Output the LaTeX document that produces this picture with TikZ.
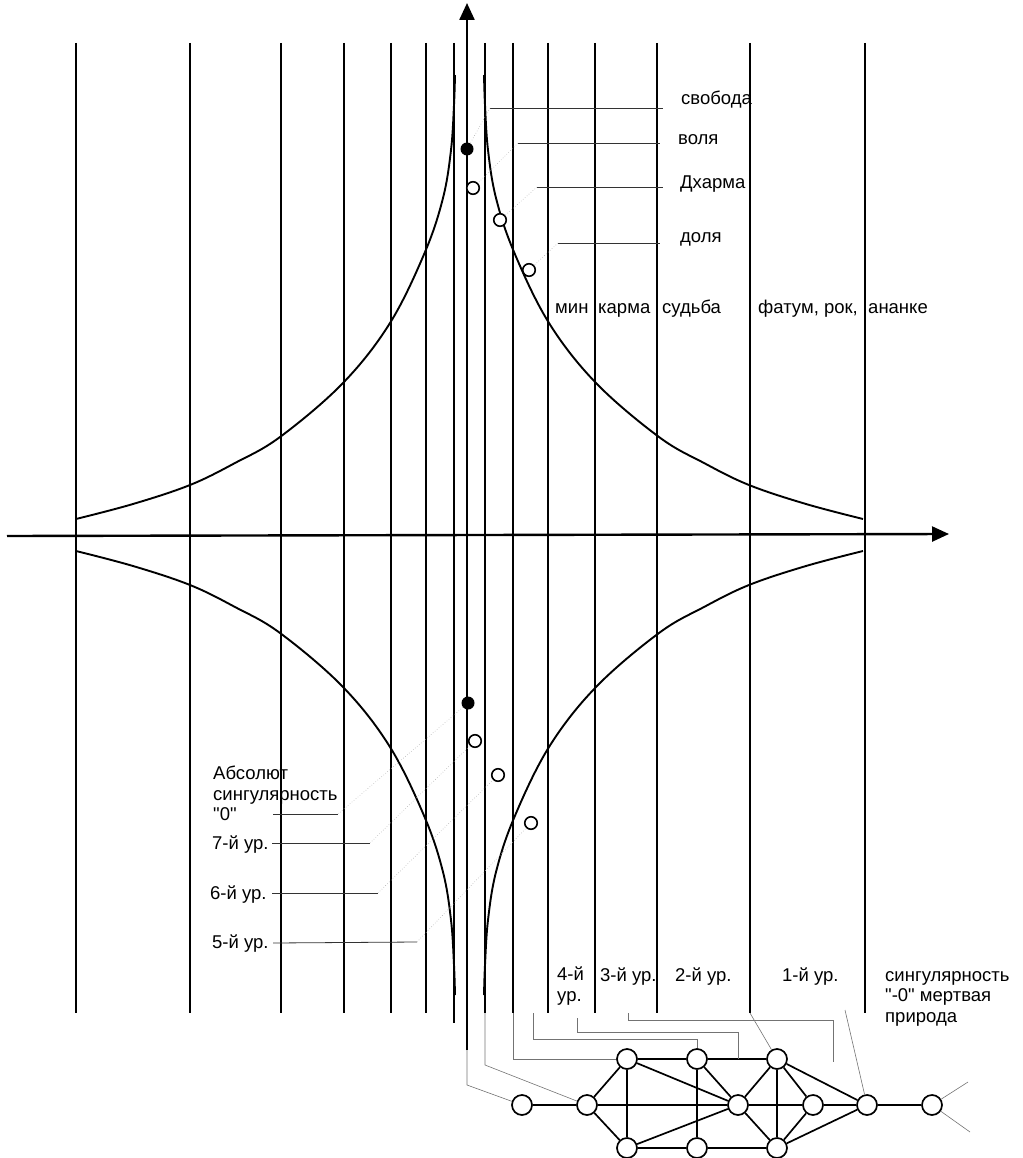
\documentclass[tikz,border=0pt]{standalone}
\usepackage{fontspec}
\setmainfont{Liberation Sans}[Ligatures=TeXOff]
\usetikzlibrary{arrows.meta}
\newcommand\branchpath{%
  \draw[hypcurve] plot[smooth, tension=0.6] coordinates {(76,519) (133,504) (190,485) (235,463) (280,437) (343,383) (390,323) (425,252) (443,198) (451,150) (454,105) (455,75)};}
\begin{document}
\begin{tikzpicture}[x=1pt,y=-1pt,
  vline/.style={line width=1.6pt},
  hypcurve/.style={line width=1.9pt, line join=round},
  axisline/.style={line width=2.4pt,-{Triangle[length=17pt,width=15pt]}},
  lbl/.style={anchor=base west, inner sep=0pt, font=\fontsize{18.5}{21}\selectfont, align=left},
  mlbl/.style={anchor=north west, inner sep=0pt, font=\fontsize{18.5}{20.5}\selectfont, align=left},
  lead/.style={line width=0.8pt, black!80},
  faint/.style={line width=0.6pt, gray!60, dotted},
  gnode/.style={circle, draw, line width=1.7pt, minimum size=20pt, inner sep=0pt, fill=white},
  gedge/.style={line width=1.7pt},
  tedge/.style={line width=2.7pt},
  conn/.style={line width=0.6pt, black!55},
  odot/.style={circle, draw, line width=1.6pt, minimum size=12.5pt, inner sep=0pt, fill=white},
  fdot/.style={circle, fill, minimum size=13pt, inner sep=0pt}]
\useasboundingbox (0,0) rectangle (1022,1158);
% vertical lines
\foreach \x in {76,190,281,344,391,426,485,513,548,595,657,750,865}
  \draw[vline] (\x,43) -- (\x,1013);
\draw[vline] (454,43) -- (454,1023);
% axes
\coordinate (xs) at (7,536);
\coordinate (xe) at (949,534);
\draw[axisline] (xs) -- (xe);
\coordinate (ys) at (467,1050);
\coordinate (ye) at (467,3);
\draw[axisline] (ys) -- (ye);
% curves
\branchpath
\begin{scope}[shift={(939,0)},xscale=-1]\branchpath\end{scope}
\begin{scope}[shift={(0,1070)},yscale=-1]\branchpath\end{scope}
\begin{scope}[shift={(939,1070)},xscale=-1,yscale=-1]\branchpath\end{scope}
% dots
\node[fdot] (u0) at (467,149) {};
\node[odot] (u1) at (473,188) {};
\node[odot] (u2) at (500,220) {};
\node[odot] (u3) at (529,270) {};
\node[fdot] (l0) at (468,703) {};
\node[odot] (l1) at (475,741) {};
\node[odot] (l2) at (498,775) {};
\node[odot] (l3) at (531,823) {};
% upper labels
\node[lbl] (t1) at (681,105) {свобода};
\node[lbl] (t2) at (678,145) {воля};
\node[lbl] (t3) at (680,189) {Дхарма};
\node[lbl] (t4) at (680,243) {доля};
\coordinate (a1) at (490,108); \coordinate (b1) at (663,108);
\coordinate (a2) at (518,143); \coordinate (b2) at (660,143);
\coordinate (a3) at (537,187); \coordinate (b3) at (663,187);
\coordinate (a4) at (558,243); \coordinate (b4) at (660,243);
\draw[lead] (a1) -- (b1); \draw[faint] (a1) -- (u0);
\draw[lead] (a2) -- (b2); \draw[faint] (a2) -- (u1);
\draw[lead] (a3) -- (b3); \draw[faint] (a3) -- (u2);
\draw[lead] (a4) -- (b4); \draw[faint] (a4) -- (u3);
% row labels
\node[lbl] (r1) at (555,313) {мин};
\node[lbl] (r2) at (598,313) {карма};
\node[lbl] (r3) at (662,313) {судьба};
\node[lbl] (r4) at (758,313) {фатум, рок,};
\node[lbl] (r5) at (868,313) {ананке};
% left labels
\node[mlbl] (s0) at (213,766) {Абсолют\\сингулярность\\"0"};
\node[lbl] (s7) at (212,849) {7-й ур.};
\node[lbl] (s6) at (210,899) {6-й ур.};
\node[lbl] (s5) at (212,948) {5-й ур.};
\coordinate (c0) at (273,814); \coordinate (d0) at (338,814);
\coordinate (c7) at (272,843); \coordinate (d7) at (370,843);
\coordinate (c6) at (272,893); \coordinate (d6) at (378,893);
\coordinate (c5) at (273,943); \coordinate (d5) at (417,942);
\draw[lead] (c0) -- (d0); \draw[faint] (d0) -- (l0);
\draw[lead] (c7) -- (d7); \draw[faint] (d7) -- (l1);
\draw[lead] (c6) -- (d6); \draw[faint] (d6) -- (l2);
\draw[lead] (c5) -- (d5); \draw[faint] (d5) -- (l3);
% bottom labels
\node[mlbl] (w4) at (557,967) {4-й\\ур.};
\node[lbl] (w3) at (600,981) {3-й ур.};
\node[lbl] (w2) at (675,981) {2-й ур.};
\node[lbl] (w1) at (782,981) {1-й ур.};
\node[mlbl] (w0) at (885,971) {сингулярность\\"-0" мертвая\\природа};
% graph
\node[gnode] (A) at (522,1105) {};
\node[gnode] (B) at (587,1105) {};
\node[gnode] (C) at (627,1059) {};
\node[gnode] (Cb) at (627,1148) {};
\node[gnode] (D) at (697,1059) {};
\node[gnode] (Db) at (697,1148) {};
\node[gnode] (E) at (738,1105) {};
\node[gnode] (F) at (777,1059) {};
\node[gnode] (Fb) at (777,1148) {};
\node[gnode] (G) at (813,1105) {};
\node[gnode] (H) at (867,1105) {};
\node[gnode] (I) at (932,1105) {};
\draw[tedge] (A) -- (B);
\draw[gedge] (B) -- (C); \draw[gedge] (B) -- (Cb); \draw[gedge] (B) -- (E);
\draw[gedge] (C) -- (D); \draw[gedge] (C) -- (Cb); \draw[gedge] (C) -- (E);
\draw[gedge] (Cb) -- (E); \draw[tedge] (Cb) -- (Db);
\draw[gedge] (D) -- (Db); \draw[gedge] (D) -- (E); \draw[tedge] (D) -- (F);
\draw[gedge] (Db) -- (Fb);
\draw[gedge] (E) -- (F); \draw[gedge] (E) -- (Fb); \draw[gedge] (E) -- (G);
\draw[gedge] (F) -- (Fb); \draw[gedge] (F) -- (G); \draw[gedge] (F) -- (H);
\draw[gedge] (Fb) -- (G); \draw[gedge] (Fb) -- (H);
\draw[gedge] (G) -- (H);
\draw[tedge] (H) -- (I);
% connectors from levels to graph
\coordinate (k1) at (467,1085);
\draw[conn] (ys) -- (k1) -- (A);
\coordinate (k2a) at (485,1013); \coordinate (k2) at (485,1065);
\draw[conn] (k2a) -- (k2) -- (B);
\coordinate (k3a) at (513,1013); \coordinate (k3) at (513,1059);
\draw[conn] (k3a) -- (k3) -- (C);
\coordinate (k4a) at (533,1013); \coordinate (k4) at (533,1039); \coordinate (k4b) at (697,1039);
\draw[conn] (k4a) -- (k4) -- (k4b) -- (D);
\coordinate (k5a) at (577,1018); \coordinate (k5) at (577,1032); \coordinate (k5b) at (738,1032); \coordinate (k5c) at (738,1059);
\draw[conn] (k5a) -- (k5) -- (k5b) -- (k5c);
\coordinate (k6a) at (628,1013); \coordinate (k6) at (628,1020); \coordinate (k6b) at (833,1020); \coordinate (k6c) at (833,1062);
\draw[conn] (k6a) -- (k6) -- (k6b) -- (k6c);
\coordinate (k7a) at (750,1013);
\draw[conn] (k7a) -- (F);
\coordinate (k8a) at (845,1010);
\draw[conn] (k8a) -- (H);
\coordinate (k9a) at (968,1082); \coordinate (k9b) at (970,1132);
\draw[conn] (I) -- (k9a); \draw[conn] (I) -- (k9b);
\end{tikzpicture}
\end{document}
